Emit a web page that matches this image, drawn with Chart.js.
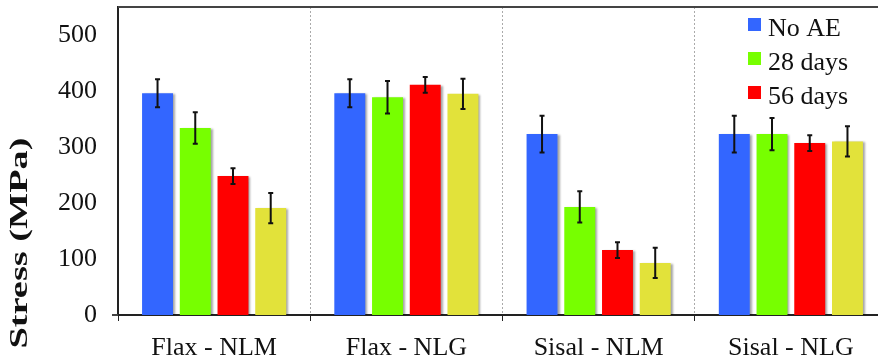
<!DOCTYPE html>
<html>
<head>
<meta charset="utf-8">
<script src="https://cdn.jsdelivr.net/npm/chart.js@4/dist/chart.umd.min.js"></script>
<style>
  html, body { margin: 0; padding: 0; overflow: hidden; background: #fff; }
  #wrap { width: 900px; height: 364px; }
</style>
</head>
<body>
<div id="wrap"><canvas id="stress"></canvas></div>
<script>
// groups and series
var groups = ['Flax - NLM', 'Flax - NLG', 'Sisal - NLM', 'Sisal - NLG'];
var seriesNames = ['No AE', '28 days', '56 days', ''];
var noAE = [396, 396, 323, 323];
var days28 = [334, 389, 193, 323];
var days56 = [248, 411, 116, 307];
var lastSeries = [191, 395, 93, 310];
// +/- error values
var errNoAE = [25, 25, 33, 33];
var err28 = [28, 29, 28, 29];
var err56 = [14, 14, 14, 14];
var errLast = [27, 27, 27, 27];
var yTicks = [0, 100, 200, 300, 400, 500];
var yTitle = 'Stress (MPa)';

var colors = ['#3366ff', '#77ff00', '#ff0000', '#e2e23a'];
var serif = 'Liberation Serif, Times New Roman, serif';

// shadow behind the bars + error bars on top
var barDecor = {
    id: 'barDecor',
    beforeDatasetsDraw: function(chart) {
        var c = chart.ctx;
        c.save();
        c.shadowColor = 'rgba(0,0,0,0.35)';
        c.shadowOffsetX = 2;
        c.shadowOffsetY = 1;
        c.shadowBlur = 2;
    },
    afterDatasetsDraw: function(chart) {
        var c = chart.ctx;
        c.restore();
        var y = chart.scales.y;
        chart.data.datasets.forEach(function(ds, i) {
            chart.getDatasetMeta(i).data.forEach(function(bar, j) {
                var v = ds.data[j], e = ds.errors[j];
                var top = y.getPixelForValue(v + e), bot = y.getPixelForValue(v - e);
                c.save();
                c.strokeStyle = '#111';
                c.lineWidth = 2;
                c.beginPath();
                c.moveTo(bar.x, top); c.lineTo(bar.x, bot);
                c.moveTo(bar.x - 2.5, top); c.lineTo(bar.x + 2.5, top);
                c.moveTo(bar.x - 2.5, bot); c.lineTo(bar.x + 2.5, bot);
                c.stroke();
                c.restore();
            });
        });
    }
};

// top frame line, legend inside the last group, rotated y title
var extras = {
    id: 'extras',
    afterDraw: function(chart) {
        var c = chart.ctx, a = chart.chartArea;
        c.save();
        c.strokeStyle = '#444';
        c.lineWidth = 2;
        c.beginPath();
        c.moveTo(a.left, a.top); c.lineTo(a.right, a.top);
        // x axis line runs a little past the y axis
        c.moveTo(a.left - 6, a.bottom); c.lineTo(a.left, a.bottom);
        c.stroke();

        c.font = '26px ' + serif;
        c.textBaseline = 'alphabetic';
        var bx = a.right - 139, by = a.top + 11;
        chart.data.datasets.forEach(function(ds, i) {
            if (!ds.label) return;
            c.fillStyle = ds.backgroundColor;
            c.fillRect(bx, by + i * 34, 13, 13);
            c.fillStyle = '#111';
            c.fillText(ds.label, bx + 20, by + i * 34 + 18);
        });
        // y axis title
        c.fillStyle = '#111';
        c.translate(20, 243);
        c.rotate(-Math.PI / 2);
        c.font = 'bold 26px ' + serif;
        var w = c.measureText(yTitle).width;
        c.scale(211 / w, 1);
        c.textAlign = 'center';
        c.textBaseline = 'middle';
        c.fillText(yTitle, 0, 0);
        c.restore();
    }
};

var values = [noAE, days28, days56, lastSeries];
var errs = [errNoAE, err28, err56, errLast];
var ctx = document.getElementById('stress').getContext('2d');
var chart = new Chart(ctx, {
    type: 'bar',
    data: {
        labels: groups,
        datasets: values.map(function(d, i) {
            return {
                label: seriesNames[i],
                data: d,
                errors: errs[i],
                backgroundColor: colors[i],
                categoryPercentage: 0.785,
                barPercentage: 0.82
            };
        })
    },
    options: {
        responsive: true,
        maintainAspectRatio: false,
        animation: false,
        layout: { padding: { top: 7, right: 13, left: 0, bottom: 0 } },
        plugins: { legend: { display: false }, tooltip: { enabled: false } },
        scales: {
            x: {
                grid: { color: '#aaa', lineWidth: 1, tickColor: '#222', tickLength: 6, offset: true },
                border: { color: '#222', width: 2, dash: [2, 2] },
                ticks: { font: { family: serif, size: 26 }, color: '#111', padding: 12 },
                afterFit: function(s) { s.height = 49; s.paddingLeft = 0; s.paddingRight = 0; }
            },
            y: {
                min: 0,
                max: 550,
                grid: { display: false },
                border: { color: '#222', width: 2 },
                ticks: { font: { family: serif, size: 26 }, color: '#111', padding: 13 },
                afterBuildTicks: function(s) { s.ticks = yTicks.map(function(v) { return { value: v }; }); },
                afterFit: function(s) { s.width = 118; s.paddingTop = 0; s.paddingBottom = 0; }
            }
        }
    },
    plugins: [barDecor, extras]
});
</script>
</body>
</html>
